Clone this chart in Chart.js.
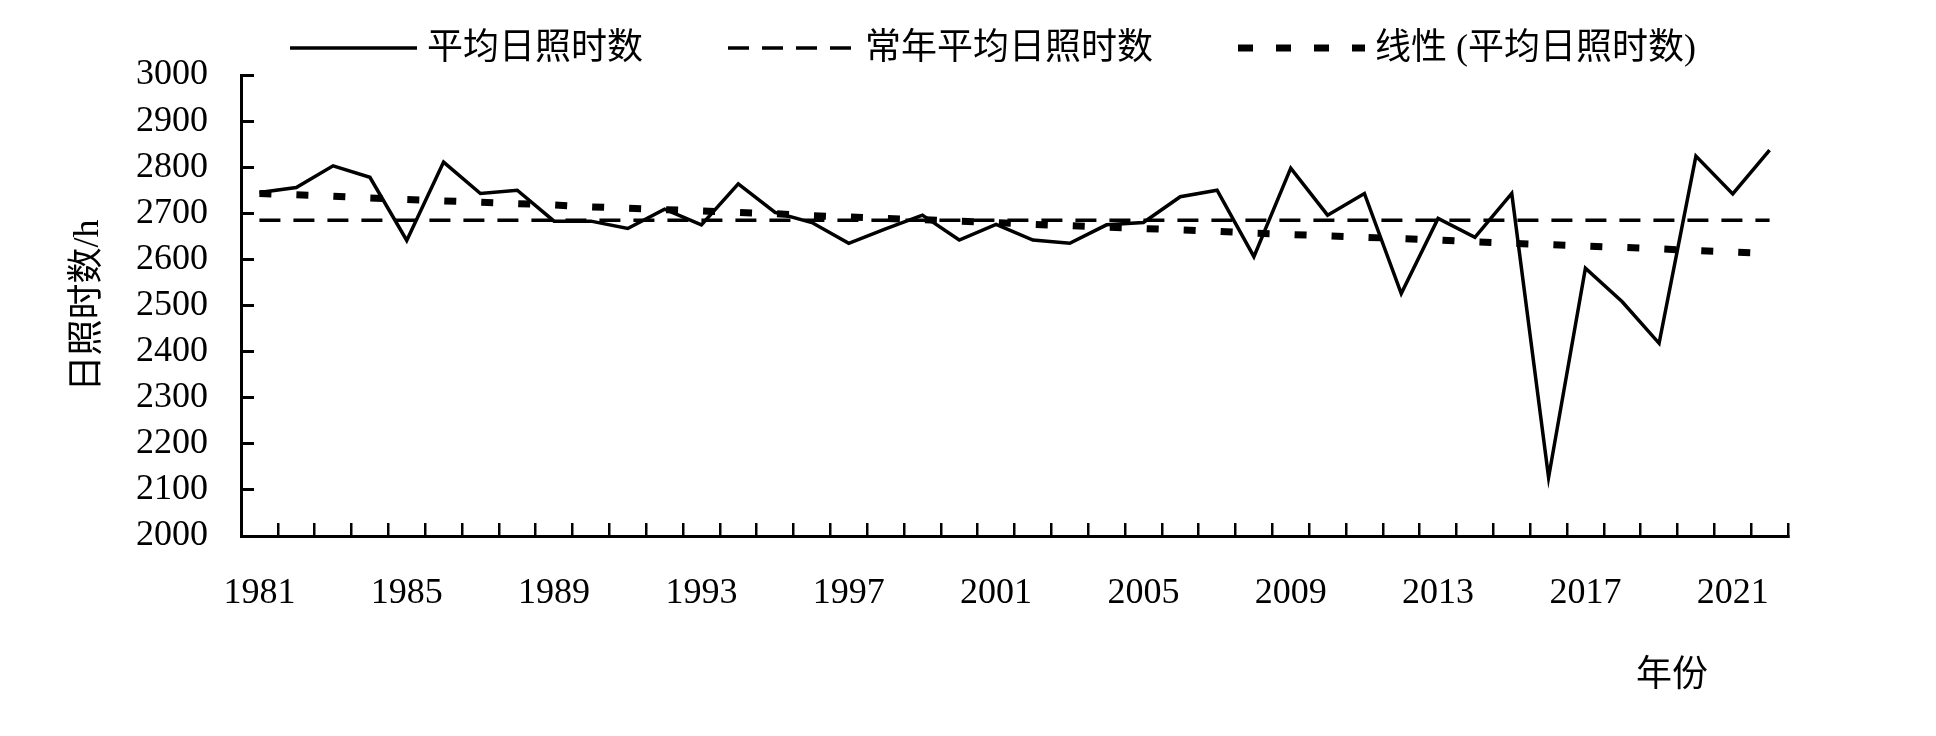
<!DOCTYPE html>
<html lang="zh-CN">
<head>
<meta charset="utf-8">
<title>日照时数</title>
<script src="https://cdn.jsdelivr.net/npm/chart.js@4.4.1/dist/chart.umd.min.js"></script>
<style>
  html, body { margin: 0; padding: 0; background: #fff; }
  #wrap { width: 1936px; height: 736px; position: relative; }
</style>
</head>
<body>
<div id="wrap"><canvas id="sunChart"></canvas></div>
<script>
const years = ['1981', '1982', '1983', '1984', '1985', '1986', '1987', '1988', '1989', '1990',
    '1991', '1992', '1993', '1994', '1995', '1996', '1997', '1998', '1999', '2000',
    '2001', '2002', '2003', '2004', '2005', '2006', '2007', '2008', '2009', '2010',
    '2011', '2012', '2013', '2014', '2015', '2016', '2017', '2018', '2019', '2020',
    '2021', '2022'];
const xLabelYears = ['1981', '1985', '1989', '1993', '1997', '2001', '2005', '2009', '2013', '2017', '2021'];

// 平均日照时数
const sunshineHours = [2745, 2756, 2803, 2778, 2641, 2811, 2743, 2750, 2683, 2683,
    2667, 2709, 2675, 2764, 2702, 2680, 2635, 2666, 2696, 2642,
    2676, 2642, 2635, 2675, 2680, 2736, 2750, 2606, 2798, 2696,
    2743, 2526, 2689, 2648, 2743, 2127, 2581, 2508, 2418, 2824,
    2742, 2837];
// 常年平均日照时数
const normalHours = [2685, 2685, 2685, 2685, 2685, 2685, 2685, 2685, 2685, 2685,
    2685, 2685, 2685, 2685, 2685, 2685, 2685, 2685, 2685, 2685,
    2685, 2685, 2685, 2685, 2685, 2685, 2685, 2685, 2685, 2685,
    2685, 2685, 2685, 2685, 2685, 2685, 2685, 2685, 2685, 2685,
    2685, 2685];
// 线性 (平均日照时数)
const trendHours = [2743, 2740, 2737, 2733, 2730, 2727, 2724, 2721, 2718, 2714,
    2711, 2708, 2705, 2702, 2699, 2695, 2692, 2689, 2686, 2683,
    2680, 2676, 2673, 2670, 2667, 2664, 2661, 2657, 2654, 2651,
    2648, 2645, 2642, 2638, 2635, 2632, 2629, 2626, 2623, 2619,
    2616, 2613];

const serif = '"Liberation Serif", "Noto Sans CJK SC", serif';

// legend drawn by hand: Chart.js legend padding can't give the wide gaps + tight top
const topLegend = {
    id: 'topLegend',
    afterDraw(chart) {
        const ctx = chart.ctx;
        ctx.save();
        ctx.font = '36px ' + serif;
        ctx.textBaseline = 'middle';
        ctx.fillStyle = '#000';
        let x = 290;
        const y = 50;
        chart.data.datasets.forEach(ds => {
            ctx.beginPath();
            ctx.setLineDash(ds.legendDash || []);
            ctx.lineWidth = ds.borderWidth;
            ctx.strokeStyle = ds.borderColor;
            ctx.moveTo(x, y - 2);
            ctx.lineTo(x + 127, y - 2);
            ctx.stroke();
            ctx.setLineDash([]);
            ctx.fillText(ds.label, x + 137, y);
            x += 137 + ctx.measureText(ds.label).width + 85;
        });
        ctx.restore();
    }
};

const xTitle = {
    id: 'xTitle',
    afterDraw(chart) {
        const { ctx, scales: { x } } = chart;
        ctx.save();
        ctx.font = '36px ' + serif;
        ctx.textAlign = 'right';
        ctx.textBaseline = 'middle';
        ctx.fillStyle = '#000';
        ctx.fillText('年份', x.right - 80, x.top + 141);
        ctx.restore();
    }
};

const ctx = document.getElementById('sunChart').getContext('2d');
new Chart(ctx, {
    type: 'line',
    data: {
        labels: years,
        datasets: [
            { label: '平均日照时数', data: sunshineHours, borderColor: '#000', borderWidth: 3.5, pointRadius: 0, tension: 0 },
            { label: '常年平均日照时数', data: normalHours, borderColor: '#000', borderWidth: 3.5, borderDash: [21, 13], legendDash: [21, 13], pointRadius: 0 },
            { label: '线性 (平均日照时数)', data: trendHours, borderColor: '#000', borderWidth: 7, borderDash: [12, 25], legendDash: [15, 23], pointRadius: 0 }
        ]
    },
    options: {
        animation: false,
        responsive: true,
        maintainAspectRatio: false,
        layout: { padding: { top: 75, right: 148, bottom: 0, left: 0 } },
        plugins: { legend: { display: false }, tooltip: { enabled: false } },
        scales: {
            x: {
                offset: true,
                grid: { offset: true, drawOnChartArea: false, tickLength: -13, color: '#000', lineWidth: 2.5 },
                border: { color: '#000', width: 3 },
                ticks: {
                    autoSkip: false, maxRotation: 0, padding: 49, color: '#000',
                    font: { family: serif, size: 36 },
                    callback: (v, i) => xLabelYears.includes(years[i]) ? years[i] : ''
                },
                afterFit(scale) { scale.height = 200; }
            },
            y: {
                min: 2000, max: 3000,
                grid: { drawOnChartArea: false, tickLength: -13, color: '#000', lineWidth: 3 },
                border: { color: '#000', width: 3 },
                ticks: {
                    stepSize: 100, autoSkip: false, padding: 46, color: '#000',
                    font: { family: serif, size: 36 },
                    callback: v => String(v)
                },
                title: { display: true, text: '日照时数/h', color: '#000', font: { family: serif, size: 36 }, padding: { top: 67, bottom: 0 } },
                afterFit(scale) { scale.width = 241; }
            }
        }
    },
    plugins: [topLegend, xTitle]
});
</script>
</body>
</html>
